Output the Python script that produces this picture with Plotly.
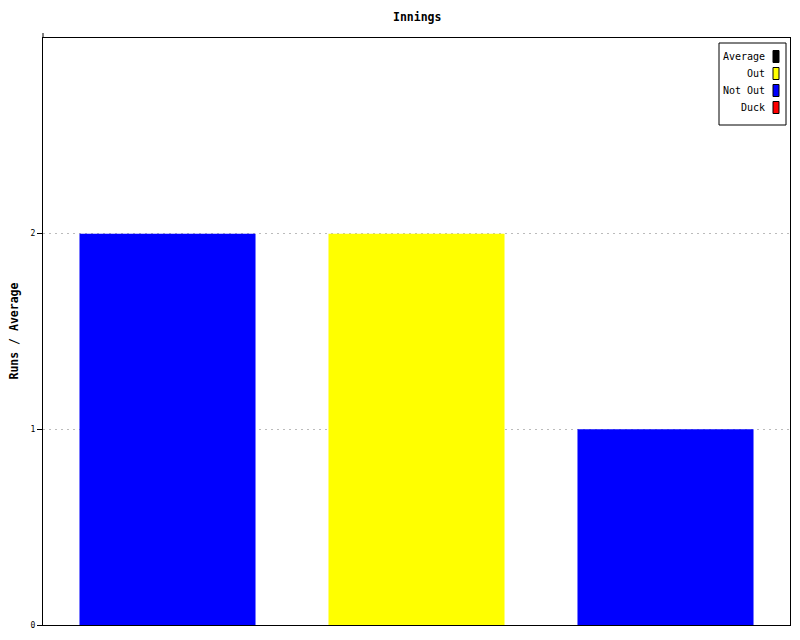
import plotly.graph_objects as go

# Innings data
innings = ["1", "2", "3"]
runs = [2, 2, 1]
status = ["Not Out", "Out", "Not Out"]

# Legend entries and colours
legend_labels = ["Average", "Out", "Not Out", "Duck"]
legend_colors = ["#000000", "#ffff00", "#0000ff", "#ff0000"]
status_colors = dict(zip(legend_labels, legend_colors))

y_ticks = [0, 1, 2]

W, H = 800, 640
ML, MR, MT, MB = 43, 10, 38, 15
PW, PH = W - ML - MR, H - MT - MB


def px_x(px):
    return (px - ML) / PW


def px_y(py):
    return (H - MB - py) / PH


MONO = "DejaVu Sans Mono"

fig = go.Figure(
    go.Bar(
        x=innings,
        y=runs,
        marker=dict(color=[status_colors[s] for s in status], line=dict(width=0)),
        showlegend=False,
        hoverinfo="x+y",
    )
)

fig.update_layout(
    width=W,
    height=H,
    margin=dict(l=ML, r=MR, t=MT, b=MB, pad=0),
    paper_bgcolor="white",
    plot_bgcolor="white",
    bargap=0.293,
    showlegend=False,
    font=dict(family=MONO, color="black"),
)

fig.update_xaxes(
    type="category",
    range=[-0.5, 2.5],
    showticklabels=False,
    ticks="",
    showgrid=False,
    showline=True,
    linecolor="black",
    linewidth=1,
    mirror=True,
    zeroline=False,
)

fig.update_yaxes(
    range=[0, 3],
    tickvals=y_ticks,
    ticktext=[str(v) for v in y_ticks],
    ticks="outside",
    ticklen=5,
    tickcolor="black",
    tickwidth=1,
    tickfont=dict(family=MONO, size=8, color="black"),
    showgrid=True,
    gridcolor="#bbbbbb",
    griddash="2px,4px",
    gridwidth=1,
    showline=True,
    linecolor="black",
    linewidth=1,
    mirror=True,
    zeroline=False,
)

shapes = [
    # left axis stub above the frame
    dict(type="line", xref="paper", yref="paper",
         x0=0, x1=0, y0=1, y1=px_y(33), line=dict(color="black", width=1)),
    # legend frame
    dict(type="rect", xref="paper", yref="paper",
         x0=px_x(719), x1=px_x(786), y0=px_y(125), y1=px_y(43),
         fillcolor="white", line=dict(color="black", width=1)),
]

annotations = [
    dict(text="<b>Innings</b>", xref="paper", yref="paper",
         x=0.5, y=px_y(17), xanchor="center", yanchor="middle",
         showarrow=False, font=dict(family=MONO, size=11.5, color="black")),
    dict(text="<b>Runs / Average</b>", xref="paper", yref="paper",
         x=px_x(13), y=0.5, xanchor="center", yanchor="middle", textangle=-90,
         showarrow=False, font=dict(family=MONO, size=11.5, color="black")),
]

for i, (label, color) in enumerate(zip(legend_labels, legend_colors)):
    cy = 56.5 + 17 * i
    shapes.append(dict(type="rect", xref="paper", yref="paper",
                       x0=px_x(773), x1=px_x(779), y0=px_y(cy + 6), y1=px_y(cy - 6),
                       fillcolor=color, line=dict(color="black", width=1)))
    annotations.append(dict(text=label, xref="paper", yref="paper",
                            x=px_x(767), y=px_y(cy), xanchor="right", yanchor="middle",
                            showarrow=False,
                            font=dict(family=MONO, size=10, color="black")))

fig.update_layout(shapes=shapes, annotations=annotations)

fig.write_html("out.html")
